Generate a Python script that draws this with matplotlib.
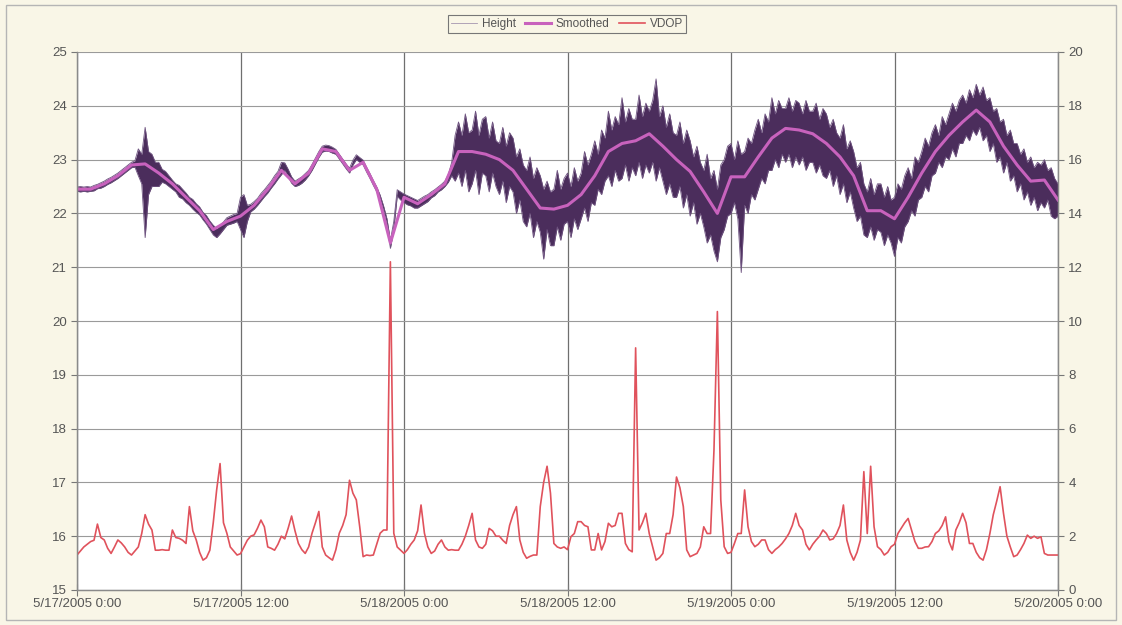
import matplotlib.pyplot as plt
from matplotlib.patches import Rectangle

plt.rcParams['font.family'] = ['Liberation Sans', 'DejaVu Sans']

# ----------------------------
# Data, hours since 5/17/2005 0:00
# ----------------------------
STEP_H = 0.25   # Height range and VDOP sampled every 15 minutes

# Height: upper / lower extent of the raw trace in each 15 min slot
height_hi = [
    22.49, 22.50, 22.49, 22.50,   # 0 h
    22.49, 22.52, 22.54, 22.57,
    22.60, 22.64, 22.67, 22.71,
    22.75, 22.80, 22.85, 22.90,
    22.95, 22.98, 23.20, 23.10,
    23.60, 23.15, 23.10, 22.95,   # 5 h
    22.95, 22.82, 22.78, 22.70,
    22.62, 22.55, 22.52, 22.45,
    22.38, 22.30, 22.26, 22.18,
    22.12, 22.02, 21.96, 21.86,
    21.78, 21.72, 21.78, 21.84,   # 10 h
    21.92, 21.95, 21.98, 22.00,
    22.30, 22.35, 22.15, 22.17,
    22.22, 22.28, 22.37, 22.44,
    22.52, 22.60, 22.70, 22.78,
    22.95, 22.94, 22.82, 22.68,   # 15 h
    22.60, 22.64, 22.68, 22.74,
    22.80, 22.91, 23.03, 23.15,
    23.25, 23.27, 23.26, 23.23,
    23.19, 23.10, 23.01, 22.92,
    22.84, 22.99, 23.09, 23.04,   # 20 h
    22.99, 22.86, 22.74, 22.61,
    22.49, 22.34, 22.14, 21.90,
    21.50, 21.85, 22.44, 22.40,
    22.36, 22.33, 22.30, 22.27,
    22.24, 22.28, 22.32, 22.35,   # 25 h
    22.40, 22.44, 22.49, 22.54,
    22.60, 22.72, 22.95, 23.45,
    23.70, 23.45, 23.85, 23.50,
    23.55, 23.90, 23.45, 23.75,
    23.80, 23.40, 23.70, 23.35,   # 30 h
    23.30, 23.60, 23.25, 23.50,
    23.40, 23.05, 23.20, 22.90,
    22.80, 23.05, 22.65, 22.85,
    22.70, 22.45, 22.60, 22.40,
    22.45, 22.80, 22.45, 22.65,   # 35 h
    22.75, 22.50, 22.85, 22.60,
    22.75, 23.15, 22.90, 23.10,
    23.35, 23.10, 23.55, 23.40,
    23.90, 23.55, 23.80, 23.65,
    24.15, 23.70, 23.95, 23.75,   # 40 h
    23.75, 24.20, 23.80, 24.05,
    23.90, 24.10, 24.50, 23.80,
    24.00, 23.60, 23.85, 23.50,
    23.45, 23.70, 23.30, 23.55,
    23.35, 23.05, 23.25, 22.95,   # 45 h
    22.80, 23.10, 22.65, 22.80,
    22.45, 22.90, 23.00, 23.25,
    23.30, 23.00, 23.35, 23.10,
    23.15, 23.40, 23.30, 23.55,
    23.75, 23.50, 23.85, 23.70,   # 50 h
    24.15, 23.85, 24.10, 23.95,
    23.95, 24.15, 23.90, 24.10,
    24.05, 23.85, 24.10, 23.90,
    23.90, 24.05, 23.75, 23.95,
    23.85, 23.60, 23.75, 23.50,   # 55 h
    23.40, 23.65, 23.20, 23.35,
    23.15, 22.85, 22.95, 22.55,
    22.40, 22.65, 22.35, 22.55,
    22.55, 22.30, 22.50, 22.25,
    22.30, 22.55, 22.45, 22.70,   # 60 h
    22.85, 22.65, 23.05, 22.95,
    23.15, 23.40, 23.25, 23.50,
    23.65, 23.45, 23.80, 23.65,
    23.85, 24.05, 23.90, 24.10,
    24.20, 24.05, 24.30, 24.15,   # 65 h
    24.40, 24.20, 24.35, 24.10,
    24.15, 23.90, 23.95, 23.70,
    23.75, 23.45, 23.55, 23.30,
    23.30, 23.10, 23.20, 22.95,
    23.05, 22.85, 22.95, 22.90,   # 70 h
    23.00, 22.80, 22.85, 22.65,
    22.55,
]

height_lo = [
    22.41, 22.40, 22.41, 22.40,   # 0 h
    22.41, 22.42, 22.46, 22.47,
    22.50, 22.54, 22.57, 22.61,
    22.65, 22.70, 22.75, 22.80,
    22.85, 22.86, 22.70, 22.55,
    21.55, 22.35, 22.50, 22.50,   # 5 h
    22.50, 22.58, 22.55, 22.50,
    22.45, 22.40, 22.30, 22.27,
    22.20, 22.15, 22.08, 22.02,
    21.97, 21.88, 21.80, 21.70,
    21.60, 21.55, 21.62, 21.70,   # 10 h
    21.78, 21.80, 21.82, 21.85,
    21.70, 21.55, 21.85, 22.03,
    22.08, 22.15, 22.23, 22.31,
    22.38, 22.47, 22.55, 22.64,
    22.72, 22.80, 22.68, 22.56,   # 15 h
    22.50, 22.52, 22.56, 22.62,
    22.70, 22.80, 22.92, 23.04,
    23.14, 23.16, 23.15, 23.12,
    23.10, 23.01, 22.92, 22.83,
    22.75, 22.90, 23.00, 22.95,   # 20 h
    22.90, 22.77, 22.65, 22.52,
    22.40, 22.25, 22.05, 21.78,
    21.35, 21.70, 22.32, 22.25,
    22.20, 22.16, 22.14, 22.10,
    22.10, 22.14, 22.18, 22.22,   # 25 h
    22.29, 22.33, 22.40, 22.44,
    22.50, 22.58, 22.70, 22.60,
    22.75, 22.50, 22.80, 22.40,
    22.55, 22.80, 22.35, 22.75,
    22.70, 22.40, 22.75, 22.50,   # 30 h
    22.35, 22.60, 22.20, 22.50,
    22.40, 22.00, 22.25, 21.85,
    21.75, 22.00, 21.55, 21.85,
    21.65, 21.15, 21.70, 21.40,
    21.40, 21.75, 21.50, 21.80,   # 35 h
    21.85, 21.55, 21.90, 21.70,
    21.90, 22.10, 21.85, 22.20,
    22.15, 22.45, 22.35, 22.60,
    22.70, 22.50, 22.80, 22.60,
    22.65, 22.90, 22.60, 22.85,   # 40 h
    22.70, 22.95, 22.65, 22.90,
    22.75, 22.95, 22.60, 22.85,
    22.60, 22.35, 22.55, 22.30,
    22.30, 22.50, 22.10, 22.35,
    21.95, 22.20, 21.80, 22.00,   # 45 h
    21.75, 21.45, 21.60, 21.30,
    21.10, 21.55, 21.70, 21.95,
    22.00, 22.20, 21.90, 20.90,
    22.15, 22.00, 22.35, 22.25,
    22.45, 22.65, 22.55, 22.80,   # 50 h
    22.80, 23.00, 22.85, 23.10,
    22.95, 23.10, 22.85, 23.05,
    22.90, 23.05, 22.80, 22.95,
    22.95, 22.75, 22.90, 22.70,
    22.65, 22.80, 22.50, 22.70,   # 55 h
    22.35, 22.55, 22.20, 22.40,
    22.10, 21.85, 21.95, 21.60,
    21.55, 21.75, 21.50, 21.70,
    21.65, 21.40, 21.60, 21.45,
    21.20, 21.55, 21.45, 21.75,   # 60 h
    21.85, 22.05, 21.95, 22.25,
    22.30, 22.50, 22.40, 22.70,
    22.75, 22.95, 22.85, 23.05,
    23.00, 23.20, 23.05, 23.30,
    23.30, 23.45, 23.35, 23.55,   # 65 h
    23.45, 23.60, 23.35, 23.45,
    23.15, 23.30, 22.95, 23.05,
    22.75, 22.95, 22.60, 22.70,
    22.40, 22.55, 22.25, 22.40,
    22.15, 22.30, 22.05, 22.20,   # 70 h
    22.10, 22.25, 21.95, 21.90,
    21.95,
]

# hourly smoothed height
smoothed = [
    22.45, 22.45, 22.55, 22.70, 22.90, 22.92, 22.75, 22.55, 22.30, 22.05,
    21.70, 21.85, 21.95, 22.15, 22.45, 22.80, 22.55, 22.75, 23.20, 23.15,
    22.80, 22.95, 22.45, 21.45, 22.30, 22.18, 22.35, 22.55, 23.15, 23.15,
    23.10, 23.00, 22.80, 22.45, 22.10, 22.08, 22.15, 22.35, 22.70, 23.15,
    23.30, 23.35, 23.48, 23.25, 23.00, 22.78, 22.40, 22.00, 22.68, 22.68,
    23.05, 23.40, 23.58, 23.55, 23.48, 23.30, 23.05, 22.70, 22.05, 22.05,
    21.90, 22.30, 22.75, 23.15, 23.45, 23.70, 23.92, 23.70, 23.25, 22.90,
    22.60, 22.62, 22.25,
]

vdop = [
    1.30, 1.45, 1.60, 1.70,   # 0 h
    1.80, 1.85, 2.45, 1.95,
    1.86, 1.55, 1.36, 1.60,
    1.86, 1.75, 1.60, 1.40,
    1.30, 1.45, 1.60, 2.10,
    2.80, 2.45, 2.23, 1.48,   # 5 h
    1.48, 1.50, 1.48, 1.48,
    2.23, 1.95, 1.92, 1.85,
    1.73, 3.10, 2.20, 1.86,
    1.40, 1.11, 1.20, 1.48,
    2.50, 3.72, 4.70, 2.50,   # 10 h
    2.11, 1.60, 1.45, 1.30,
    1.35, 1.60, 1.85, 2.00,
    2.05, 2.30, 2.60, 2.35,
    1.60, 1.55, 1.48, 1.70,
    2.00, 1.90, 2.30, 2.75,   # 15 h
    2.20, 1.73, 1.50, 1.36,
    1.60, 2.11, 2.50, 2.92,
    1.60, 1.30, 1.20, 1.11,
    1.50, 2.11, 2.40, 2.80,
    4.08, 3.60, 3.35, 2.35,   # 20 h
    1.24, 1.30, 1.28, 1.30,
    1.70, 2.11, 2.23, 2.23,
    12.2, 2.11, 1.60, 1.48,
    1.36, 1.50, 1.70, 1.86,
    2.20, 3.16, 2.11, 1.60,   # 25 h
    1.36, 1.45, 1.70, 1.86,
    1.60, 1.48, 1.50, 1.48,
    1.48, 1.70, 2.00, 2.40,
    2.85, 1.86, 1.60, 1.55,
    1.70, 2.29, 2.20, 2.00,   # 30 h
    2.00, 1.85, 1.73, 2.40,
    2.80, 3.10, 1.86, 1.40,
    1.18, 1.25, 1.30, 1.30,
    3.10, 4.00, 4.60, 3.60,
    1.73, 1.60, 1.55, 1.60,   # 35 h
    1.50, 1.98, 2.10, 2.54,
    2.54, 2.40, 2.35, 1.49,
    1.49, 2.10, 1.49, 1.80,
    2.48, 2.35, 2.40, 2.85,
    2.85, 1.73, 1.50, 1.42,   # 40 h
    9.00, 2.23, 2.50, 2.85,
    2.10, 1.60, 1.11, 1.20,
    1.36, 2.10, 2.10, 2.80,
    4.20, 3.80, 3.10, 1.49,
    1.24, 1.30, 1.36, 1.60,   # 45 h
    2.35, 2.10, 2.10, 5.20,
    10.35, 3.35, 1.61, 1.36,
    1.40, 1.73, 2.10, 2.10,
    3.72, 2.35, 1.80, 1.61,
    1.70, 1.86, 1.86, 1.50,   # 50 h
    1.36, 1.50, 1.60, 1.73,
    1.90, 2.10, 2.40, 2.85,
    2.40, 2.23, 1.70, 1.49,
    1.70, 1.86, 2.00, 2.23,
    2.10, 1.86, 1.90, 2.10,   # 55 h
    2.40, 3.16, 1.86, 1.40,
    1.11, 1.40, 1.86, 4.40,
    2.10, 4.60, 2.35, 1.61,
    1.50, 1.30, 1.40, 1.61,
    1.70, 2.10, 2.30, 2.50,   # 60 h
    2.66, 2.23, 1.80, 1.55,
    1.55, 1.60, 1.61, 1.80,
    2.10, 2.20, 2.40, 2.72,
    1.80, 1.49, 2.23, 2.50,
    2.85, 2.50, 1.73, 1.73,   # 65 h
    1.40, 1.20, 1.11, 1.50,
    2.10, 2.80, 3.30, 3.84,
    2.85, 2.00, 1.60, 1.24,
    1.30, 1.50, 1.73, 2.04,
    1.92, 2.00, 1.92, 1.98,   # 70 h
    1.36, 1.30, 1.30, 1.30,
    1.30,
]

x_ticks = [0, 12, 24, 36, 48, 60, 72]
x_tick_labels = ["5/17/2005 0:00", "5/17/2005 12:00", "5/18/2005 0:00",
                 "5/18/2005 12:00", "5/19/2005 0:00", "5/19/2005 12:00",
                 "5/20/2005 0:00"]

t_q = [i * STEP_H for i in range(len(height_hi))]
t_h = list(range(len(smoothed)))
t_v = [i * STEP_H for i in range(len(vdop))]

# ----------------------------
# Plotting
# ----------------------------
BG = "#f9f6e7"
TXT = "#555555"
GRID = "#9a9a9a"
H_COL = "#4b2d5c"

fig = plt.figure(figsize=(11.22, 6.25), dpi=100, facecolor=BG)
fig.patches.append(Rectangle((6 / 1122, 5 / 625), 1110 / 1122, 615 / 625,
                             transform=fig.transFigure, fill=False,
                             edgecolor="#b5b5b5", linewidth=1.0))

ax = fig.add_axes([77 / 1122, 35 / 625, 981 / 1122, 538 / 625])
ax.set_facecolor("white")

ax.fill_between(t_q, height_lo, height_hi, color=H_COL, linewidth=0)
ln_h, = ax.plot(t_q, height_hi, color="#6e5380", linewidth=0.6, label="Height")
ax.plot(t_q, height_lo, color="#6e5380", linewidth=0.6)
ln_s, = ax.plot(t_h, smoothed, color="#c862bd", linewidth=2.2, label="Smoothed")

ax.set_xlim(0, 72)
ax.set_ylim(15, 25)
ax.set_yticks(range(15, 26))
ax.set_xticks(x_ticks)
ax.set_xticklabels(x_tick_labels)
ax.grid(axis="y", color=GRID, linewidth=0.8)
ax.grid(axis="x", color="#6f6f6f", linewidth=0.9)
ax.set_axisbelow(True)

ax2 = ax.twinx()
ln_v, = ax2.plot(t_v, vdop, color="#e0525c", linewidth=1.2, label="VDOP")
ax2.set_ylim(0, 20)
ax2.set_yticks(range(0, 21, 2))

for a in (ax, ax2):
    for sp in a.spines.values():
        sp.set_color("#8a8a8a")
        sp.set_linewidth(0.9)
    a.tick_params(colors="#777777", labelcolor=TXT, labelsize=9.5,
                  direction="out", length=4, width=0.8)
ax.spines["top"].set_visible(False)
ax2.spines["top"].set_visible(False)
ax.tick_params(axis="x", direction="inout", length=8, pad=2)

leg = fig.legend([ln_h, ln_s, ln_v], ["Height", "Smoothed", "VDOP"],
                 loc="upper center", bbox_to_anchor=(567 / 1122, 0.985),
                 ncol=3, fontsize=8.5, frameon=True, fancybox=False,
                 edgecolor="#777777", facecolor=BG, framealpha=1,
                 handlelength=2.2, handletextpad=0.4, columnspacing=0.8,
                 borderpad=0.25)
leg.get_frame().set_linewidth(0.8)
leg.get_lines()[0].set_color("#a596b0")
for t in leg.get_texts():
    t.set_color(TXT)

plt.savefig("out.png", dpi=100, facecolor=BG)
